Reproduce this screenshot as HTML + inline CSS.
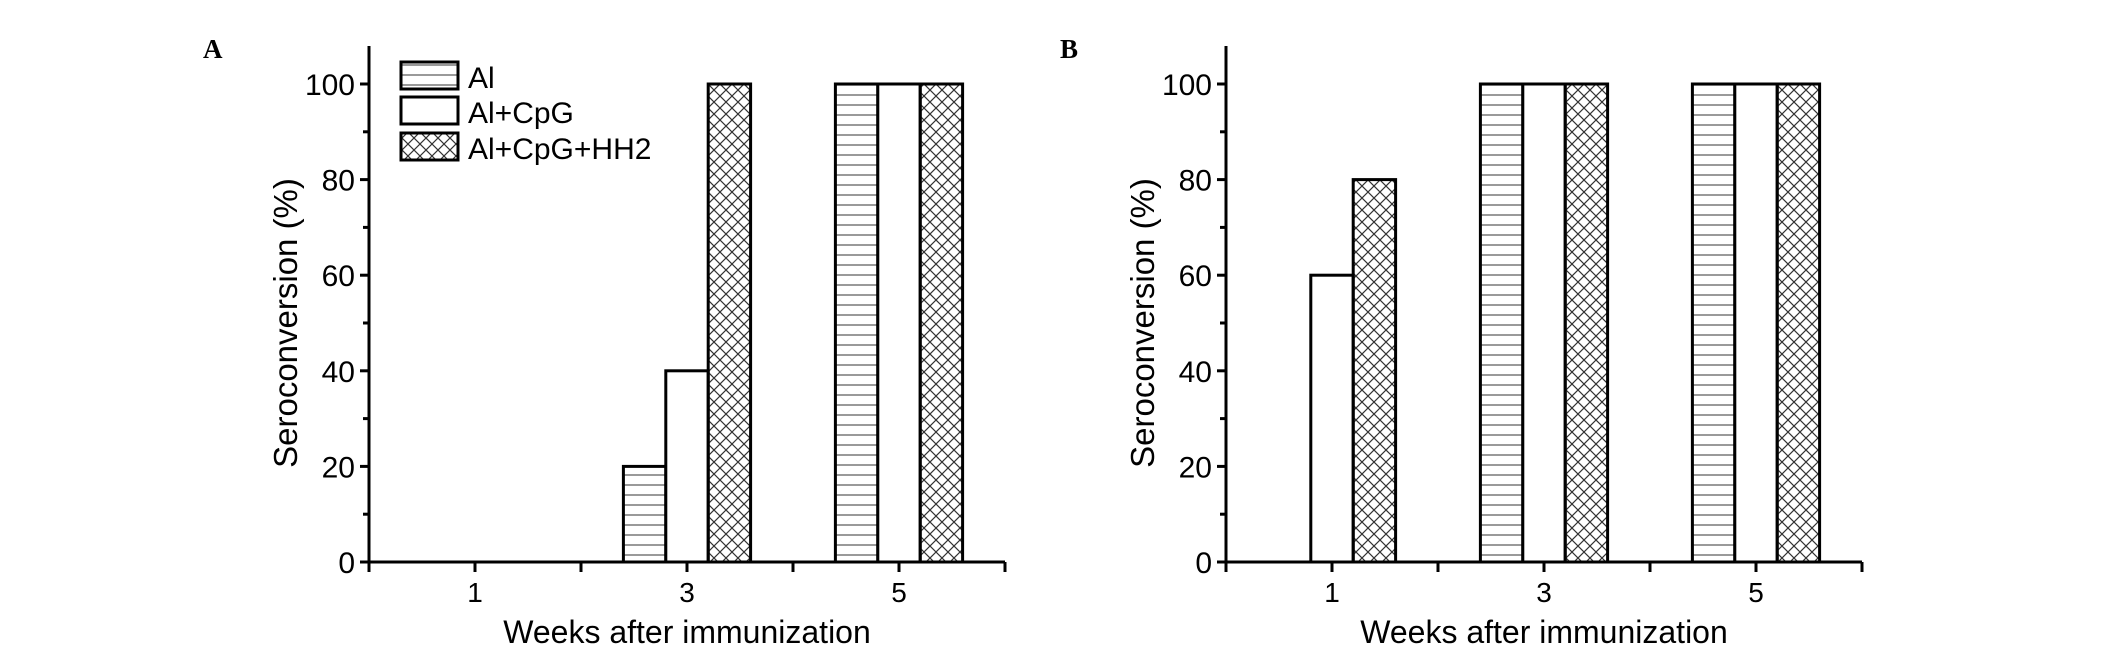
<!DOCTYPE html>
<html><head><meta charset="utf-8"><style>
html,body{margin:0;padding:0;background:#fff;}
svg{display:block;font-family:"Liberation Sans",Arial,sans-serif;}
</style></head><body>
<svg id="fig" width="2126" height="656" viewBox="0 0 2126 656">
<defs>
<pattern id="hline" width="10" height="10" patternUnits="userSpaceOnUse"><line x1="0" y1="5" x2="10" y2="5" stroke="#555" stroke-width="1.2"/></pattern>
<pattern id="xhatch" width="12" height="12" patternUnits="userSpaceOnUse"><path d="M0,0L12,12M12,0L0,12" stroke="#333" stroke-width="1.2" fill="none"/></pattern>
</defs>
</svg>
<script>
const weeks = [1, 3, 5];
const seriesNames = ["Al", "Al+CpG", "Al+CpG+HH2"];
const panelAAl = [0, 20, 100];
const panelACpG = [0, 40, 100];
const panelAHH2 = [0, 100, 100];
const panelBAl = [0, 100, 100];
const panelBCpG = [60, 100, 100];
const panelBHH2 = [80, 100, 100];
const yTicks = [0, 20, 40, 60, 80, 100];
const xTickLabels = ["1", "3", "5"];

const NS = "http://www.w3.org/2000/svg";
const svg = document.getElementById("fig");
const fills = ["url(#hline)", "#fff", "url(#xhatch)"];
function mk(tag, attrs, parent) {
  const e = document.createElementNS(NS, tag);
  for (const k in attrs) e.setAttribute(k, attrs[k]);
  (parent || svg).appendChild(e);
  return e;
}
function panel(ax, label, labelX, series, key, showLegend) {
  const g = mk("g", {});
  
  
  const y0 = 562, yTop = 84, unitX = 106;
  const ys = v => y0 - (v / 100) * (y0 - yTop);
  const xs = v => ax + v * unitX;
  const bw = 0.4 * unitX;
  const pl = mk("text", {x: labelX, y: 58, "font-family": "Liberation Serif,serif", "font-weight": "bold", "font-size": 27}, g);
  pl.textContent = label;
  
  
  series.forEach((vals, si) => {
    vals.forEach((v, i) => {
      if (v <= 0) return;
      const cx = xs(weeks[i]);
      const x = cx - 1.5 * bw + si * bw;
      const r = mk("rect", {x: x, y: ys(v), width: bw, height: y0 - ys(v), fill: fills[si], stroke: "#000", "stroke-width": 3}, g);
      
      
    });
  });
  const yAx = mk("line", {x1: ax, y1: 46, x2: ax, y2: y0 + 1.5, stroke: "#000", "stroke-width": 3}, g);
  
  
  const xAx = mk("line", {x1: ax - 1.5, y1: y0, x2: xs(6), y2: y0, stroke: "#000", "stroke-width": 3}, g);
  
  
  for (let v = 0; v <= 100; v += 10) {
    mk("line", {x1: ax - (v % 20 === 0 ? 9 : 6), y1: ys(v), x2: ax, y2: ys(v), stroke: "#000", "stroke-width": 3}, g);
  }
  yTicks.forEach(v => {
    const t = mk("text", {x: ax - 14, y: ys(v) + 11, "text-anchor": "end", "font-size": 30}, g);
    t.textContent = v;
    
    
  });
  for (let w = 0; w <= 6; w++) {
    mk("line", {x1: xs(w), y1: y0, x2: xs(w), y2: y0 + 10, stroke: "#000", "stroke-width": 3}, g);
  }
  xTickLabels.forEach((s, i) => {
    const t = mk("text", {x: xs(weeks[i]), y: 602, "text-anchor": "middle", "font-size": 28}, g);
    t.textContent = s;
    
    
  });
  const xt = mk("text", {x: xs(3), y: 643, "text-anchor": "middle", "font-size": 32}, g);
  xt.textContent = "Weeks after immunization";
  
  
  const yt = mk("text", {x: 0, y: 0, "text-anchor": "middle", "font-size": 33, transform: "translate(" + (ax - 72) + "," + ((y0 + yTop) / 2) + ") rotate(-90)"}, g);
  yt.textContent = "Seroconversion (%)";
  
  
  if (showLegend) {
    const boxY = [62, 97, 133];
    seriesNames.forEach((n, si) => {
      const b = mk("rect", {x: ax + 32, y: boxY[si], width: 57, height: 27, fill: fills[si], stroke: "#000", "stroke-width": 3}, g);
      
      
      const t = mk("text", {x: ax + 99, y: boxY[si] + 26, "font-size": 30}, g);
      t.textContent = n;
      
      
    });
  }
}
panel(369, "A", 203, [panelAAl, panelACpG, panelAHH2], "a", true);
panel(1226, "B", 1060, [panelBAl, panelBCpG, panelBHH2], "b", false);
</script>
</body></html>
